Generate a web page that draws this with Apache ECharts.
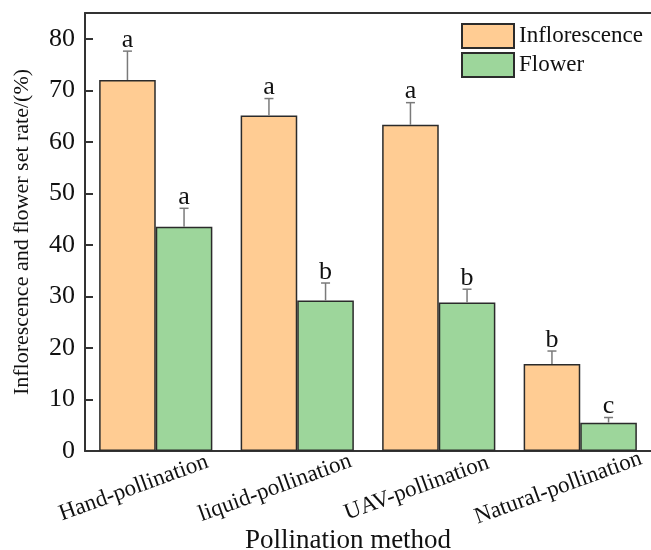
<!DOCTYPE html>
<html>
<head>
<meta charset="utf-8">
<script src="https://cdn.jsdelivr.net/npm/echarts@6/dist/echarts.min.js"></script>
<style>html,body{margin:0;padding:0;background:#fff}#main{width:651px;height:550px}</style>
</head>
<body>
<div id="main"></div>
<script>
const categories = ['Hand-pollination', 'liquid-pollination', 'UAV-pollination', 'Natural-pollination'];
const inflorescence = [72.0, 65.1, 63.3, 16.9];
const inflorescenceErr = [5.6, 3.3, 4.3, 2.5];
const inflorescenceLetters = ['a', 'a', 'a', 'b'];
const flower = [43.5, 29.2, 28.8, 5.5];
const flowerErr = [3.6, 3.4, 2.6, 1.0];
const flowerLetters = ['a', 'b', 'b', 'c'];
const yTicks = [0, 10, 20, 30, 40, 50, 60, 70, 80];

const FONT = "'Liberation Serif', 'Times New Roman', serif";
const ORANGE = '#FFCC93';
const GREEN = '#9DD69B';
const EDGE = '#2b2b2b';

function errSeries(values, errs, letters, side) {
  return {
    type: 'custom',
    z: 5,
    silent: true,
    data: values.map((v, i) => [i, v, errs[i], letters[i]]),
    encode: { x: 0, y: 1 },
    renderItem: function (params, api) {
      const idx = api.value(0);
      const val = api.value(1);
      const err = api.value(2);
      const letter = letters[idx];
      const band = api.size([1, 0])[0];
      const base = api.coord([idx, val]);
      const top = api.coord([idx, val + err]);
      const x = base[0] + side * band * 0.2;
      const cap = 4.5;
      const st = { stroke: '#7a7a7a', lineWidth: 1.5 };
      return {
        type: 'group',
        children: [
          { type: 'line', shape: { x1: x, y1: base[1], x2: x, y2: top[1] }, style: st },
          { type: 'line', shape: { x1: x - cap, y1: top[1], x2: x + cap, y2: top[1] }, style: st },
          { type: 'text', style: { text: letter, x: x, y: top[1] + 2, textAlign: 'center', textVerticalAlign: 'bottom', font: '26px ' + FONT, fill: '#111' } }
        ]
      };
    }
  };
}

const chart = echarts.init(document.getElementById('main'), null, { renderer: 'canvas' });
chart.setOption({
  backgroundColor: '#fff',
  animation: false,
  grid: { left: 85, top: 13, right: 0, bottom: 99, containLabel: false, outerBoundsMode: 'none' },
  legend: {
    data: ['Inflorescence', 'Flower'],
    orient: 'vertical',
    left: 456,
    top: 18,
    icon: 'rect',
    itemWidth: 52,
    itemHeight: 24,
    itemGap: 3,
    textStyle: { fontFamily: FONT, fontSize: 23, color: '#111' },
    selectedMode: false
  },
  xAxis: [
    {
      type: 'category',
      data: categories,
      axisLine: { show: true, lineStyle: { color: '#333', width: 2 } },
      axisTick: { show: false },
      axisLabel: {
        interval: 0,
        rotate: 20,
        align: 'center',
        verticalAlign: 'middle',
        margin: 29,
        padding: [0, 47, 0, 0],
        fontFamily: FONT,
        fontSize: 23,
        color: '#111'
      },
      name: 'Pollination method',
      nameLocation: 'middle',
      nameGap: 76,
      nameMoveOverlap: false,
      nameTextStyle: { fontFamily: FONT, fontSize: 27, color: '#111', padding: [0, 40, 0, 0] }
    },
    {
      type: 'category',
      position: 'top',
      data: categories,
      axisLine: { show: true, lineStyle: { color: '#333', width: 2 } },
      axisTick: { show: false },
      axisLabel: { show: false }
    }
  ],
  yAxis: {
    type: 'value',
    min: 0,
    max: 85,
    interval: 10,
    splitLine: { show: false },
    axisLine: { show: true, lineStyle: { color: '#333', width: 2 } },
    axisTick: { show: true, inside: true, length: 8, lineStyle: { color: '#333', width: 2 } },
    axisLabel: {
      showMaxLabel: false,
      margin: 10,
      fontFamily: FONT,
      fontSize: 26,
      color: '#111',
      formatter: function (v) { return yTicks.indexOf(v) >= 0 ? String(v) : ''; }
    },
    name: 'Inflorescence and flower set rate/(%)',
    nameLocation: 'middle',
    nameGap: 52,
    nameMoveOverlap: false,
    nameTextStyle: { fontFamily: FONT, fontSize: 22, color: '#111' }
  },
  series: [
    {
      name: 'Inflorescence',
      type: 'bar',
      data: inflorescence,
      barGap: '0%',
      barCategoryGap: '20%',
      itemStyle: { color: ORANGE, borderColor: EDGE, borderWidth: 1.5 }
    },
    {
      name: 'Flower',
      type: 'bar',
      data: flower,
      barGap: '0%',
      barCategoryGap: '20%',
      itemStyle: { color: GREEN, borderColor: EDGE, borderWidth: 1.5 }
    },
    errSeries(inflorescence, inflorescenceErr, inflorescenceLetters, -1),
    errSeries(flower, flowerErr, flowerLetters, 1)
  ]
});
</script>
</body>
</html>
